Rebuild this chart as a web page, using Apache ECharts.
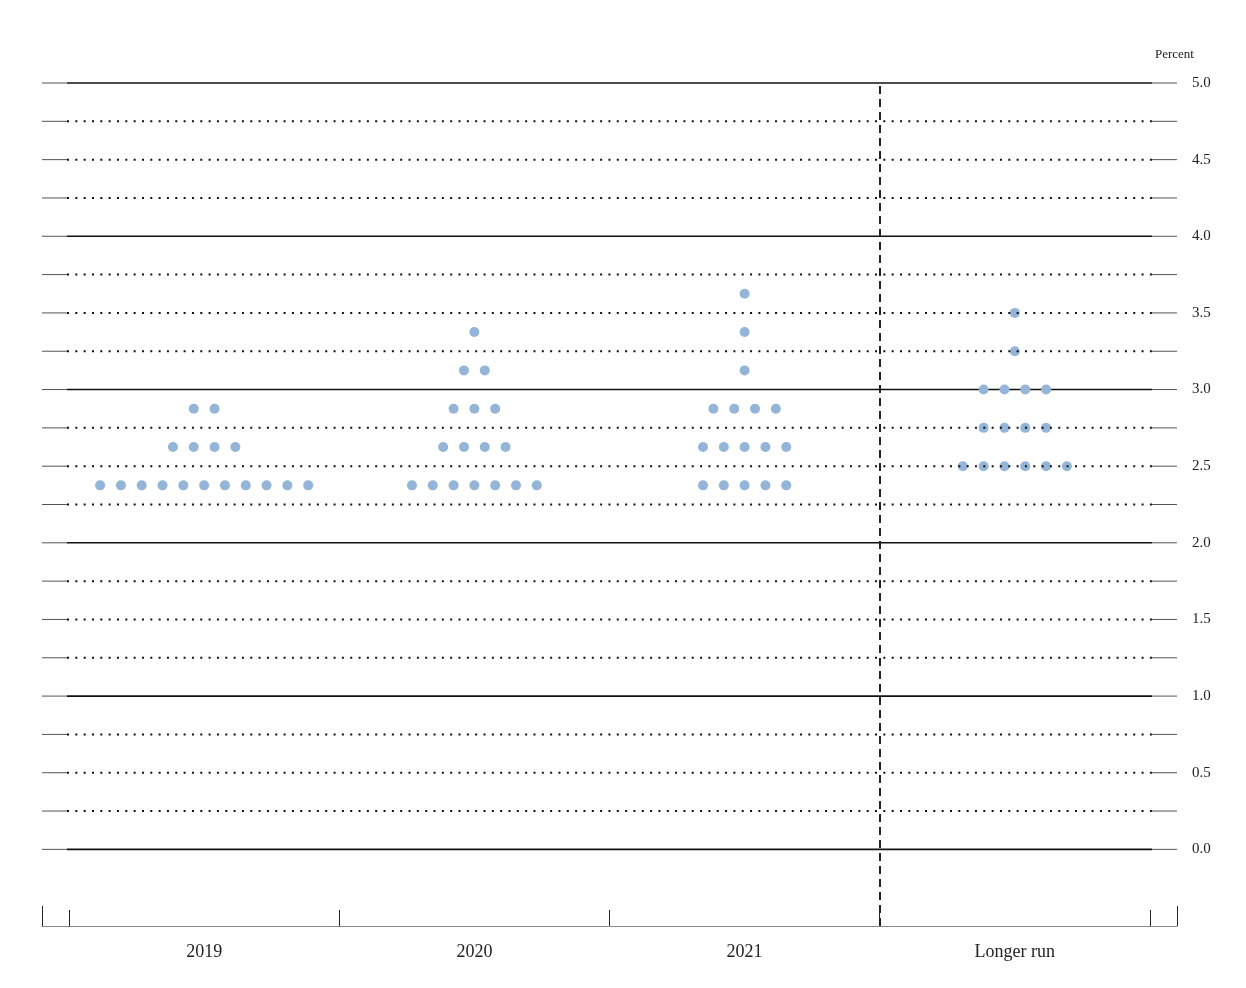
<!DOCTYPE html>
<html>
<head>
<meta charset="utf-8">
<script src="https://cdn.jsdelivr.net/npm/echarts@6/dist/echarts.min.js"></script>
<style>
html,body{margin:0;padding:0;background:#fff;}
#chart{width:1246px;height:988px;}
</style>
</head>
<body>
<div id="chart"></div>
<script>
// ---- Data ----
const categories = ['2019', '2020', '2021', 'Longer run'];

// midpoint of target range (percent) and number of participants at it
const levels2019 = [2.375, 2.625, 2.875];
const counts2019 = [11, 4, 2];

const levels2020 = [2.375, 2.625, 2.875, 3.125, 3.375];
const counts2020 = [7, 4, 3, 2, 1];

const levels2021 = [2.375, 2.625, 2.875, 3.125, 3.375, 3.625];
const counts2021 = [5, 5, 4, 1, 1, 1];

const levelsLonger = [2.5, 2.75, 3.0, 3.25, 3.5];
const countsLonger = [6, 4, 4, 1, 1];

const yTickLabels = [0.0, 0.5, 1.0, 1.5, 2.0, 2.5, 3.0, 3.5, 4.0, 4.5, 5.0];
const gridLevels = [0, 0.25, 0.5, 0.75, 1, 1.25, 1.5, 1.75, 2, 2.25, 2.5, 2.75, 3, 3.25, 3.5, 3.75, 4, 4.25, 4.5, 4.75, 5];

// ---- Build dot positions ----
const dotStep = 0.077; // horizontal spacing between dots, in category units
const allLevels = [levels2019, levels2020, levels2021, levelsLonger];
const allCounts = [counts2019, counts2020, counts2021, countsLonger];
const dots = [];
allLevels.forEach((lv, ci) => {
  lv.forEach((rate, k) => {
    const n = allCounts[ci][k];
    for (let j = 0; j < n; j++) {
      dots.push([ci + (j - (n - 1) / 2) * dotStep, rate]);
    }
  });
});

const FONT = '"Liberation Serif", "Times New Roman", serif';
const INSET = 25;

function makeLevelRenderer(solidWanted) {
  return function (params, api) {
    const lv = api.value(1);
    const solid = Math.abs(lv - Math.round(lv)) < 1e-9;
    if (solid !== solidWanted) return null;
    const y = api.coord([0, lv])[1];
    const cs = params.coordSys;
    const x0 = cs.x, x1 = cs.x + cs.width;
    return {
      type: 'group',
      children: [
        { type: 'line', shape: { x1: x0, y1: y, x2: x0 + INSET, y2: y },
          style: { stroke: '#555', lineWidth: 1 } },
        { type: 'line', shape: { x1: x0 + INSET, y1: y, x2: x1 - INSET, y2: y },
          style: solid ? { stroke: '#111', lineWidth: 1.6 }
                       : { stroke: '#111', lineWidth: 2, lineDash: [2, 6.33] } },
        { type: 'line', shape: { x1: x1 - INSET, y1: y, x2: x1, y2: y },
          style: { stroke: '#555', lineWidth: 1 } }
      ]
    };
  };
}

const chart = echarts.init(document.getElementById('chart'), null, { renderer: 'canvas' });
chart.setOption({
  backgroundColor: '#fff',
  animation: false,
  graphic: [{
    type: 'text', left: 1155, top: 48,
    style: { text: 'Percent', font: '13px ' + FONT, fill: '#222' }
  }],
  grid: { left: 42, right: 69, top: 83, bottom: 62 },
  xAxis: [{
    type: 'value', min: -0.6, max: 3.6,
    splitLine: { show: false },
    axisLine: { show: true, onZero: false, lineStyle: { color: '#888', width: 1 } },
    axisTick: { show: true, inside: true, length: 16, customValues: [-0.5, 0.5, 1.5, 2.5, 3.5],
      lineStyle: { color: '#222', width: 1 } },
    axisLabel: { show: true, customValues: [0, 1, 2, 3], margin: 17,
      formatter: v => categories[Math.round(v)] || '',
      fontFamily: FONT, fontSize: 18, color: '#222' }
  }, {
    type: 'value', min: -0.6, max: 3.6, position: 'bottom',
    splitLine: { show: false },
    axisLine: { show: false, onZero: false },
    axisTick: { show: true, inside: true, length: 20, customValues: [-0.6, 3.6],
      lineStyle: { color: '#222', width: 1 } },
    axisLabel: { show: false }
  }],
  yAxis: {
    type: 'value', min: -0.5, max: 5, interval: 0.5, position: 'right',
    splitLine: { show: false },
    axisLine: { show: false },
    axisTick: { show: false },
    axisLabel: {
      margin: 15, fontFamily: FONT, fontSize: 15, color: '#222',
      customValues: yTickLabels,
      padding: [3, 0, 0, 0],
      formatter: v => v.toFixed(1)
    }
  },
  series: [
    {
      type: 'custom', name: 'solidGrid', z: 1, silent: true,
      renderItem: makeLevelRenderer(true),
      data: gridLevels.map(v => [0, v]), encode: { x: 0, y: 1 }
    },
    {
      type: 'scatter', name: 'dots', z: 2,
      symbol: 'circle', symbolSize: 10,
      itemStyle: { color: '#94b5d7', opacity: 1 },
      data: dots,
      markLine: {
        silent: true, symbol: 'none', label: { show: false },
        lineStyle: { color: '#222', width: 2, type: [8, 5] },
        data: [{ xAxis: 2.5 }]
      }
    },
    {
      type: 'custom', name: 'dottedGrid', z: 3, silent: true,
      renderItem: makeLevelRenderer(false),
      data: gridLevels.map(v => [0, v]), encode: { x: 0, y: 1 }
    }
  ]
});
</script>
</body>
</html>
